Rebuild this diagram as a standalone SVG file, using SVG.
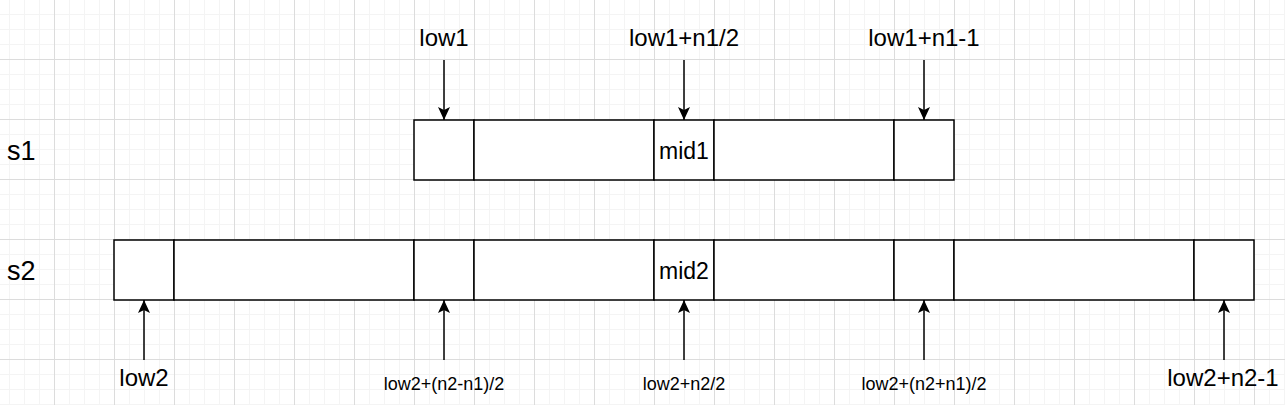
<svg xmlns="http://www.w3.org/2000/svg" width="1285" height="405" viewBox="0 0 1285 405">
<style>
text{font-family:"Liberation Sans",Arial,sans-serif;fill:#000}
.cell{fill:#fff;stroke:#000;stroke-width:1.5}
.big{font-size:24px;text-anchor:middle}
.small{font-size:18px;text-anchor:middle}
.mid{font-size:23px;text-anchor:middle}
.row{font-size:27px}
.arr{stroke:#000;stroke-width:1.5;fill:none;marker-end:url(#head)}
</style>
<defs>
<pattern id="grid" patternUnits="userSpaceOnUse" x="54" y="59" width="60" height="60">
<path d="M15.5 0V60M30.5 0V60M45.5 0V60M0 15.5H60M0 30.5H60M0 45.5H60" stroke="#f4f4f4" stroke-width="1" fill="none"/>
<path d="M0.5 0V60M0 0.5H60" stroke="#dcdcdc" stroke-width="1" fill="none"/>
</pattern>
<marker id="head" markerUnits="userSpaceOnUse" viewBox="-14 -7 14 14" refX="0" refY="0" markerWidth="14" markerHeight="14" orient="auto">
<path d="M0 0L-13 -6L-10 0L-13 6Z" fill="#000"/>
</marker>
</defs>
<rect width="1285" height="405" fill="#fff"/>
<rect width="1285" height="405" fill="url(#grid)"/>
<g id="label-s1"><text class="row" x="7" y="160">s1</text></g>
<g id="label-s2"><text class="row" x="7" y="280">s2</text></g>
<g id="s1">
<rect class="cell" x="414" y="120" width="60" height="60"/>
<rect class="cell" x="474" y="120" width="180" height="60"/>
<rect class="cell" x="654" y="120" width="60" height="60"/>
<rect class="cell" x="714" y="120" width="180" height="60"/>
<rect class="cell" x="894" y="120" width="60" height="60"/>
<text class="mid" x="684" y="159">mid1</text>
</g>
<g id="s2">
<rect class="cell" x="114" y="240" width="60" height="60"/>
<rect class="cell" x="174" y="240" width="240" height="60"/>
<rect class="cell" x="414" y="240" width="60" height="60"/>
<rect class="cell" x="474" y="240" width="180" height="60"/>
<rect class="cell" x="654" y="240" width="60" height="60"/>
<rect class="cell" x="714" y="240" width="180" height="60"/>
<rect class="cell" x="894" y="240" width="60" height="60"/>
<rect class="cell" x="954" y="240" width="240" height="60"/>
<rect class="cell" x="1194" y="240" width="60" height="60"/>
<text class="mid" x="684" y="279">mid2</text>
</g>
<g id="connectors">
<path class="arr" d="M444 60V120"/>
<path class="arr" d="M684 60V120"/>
<path class="arr" d="M924 60V120"/>
<path class="arr" d="M144 360V300"/>
<path class="arr" d="M444 360V300"/>
<path class="arr" d="M684 360V300"/>
<path class="arr" d="M924 360V300"/>
<path class="arr" d="M1224 360V300"/>
</g>
<g id="top-labels">
<text class="big" x="444" y="46">low1</text>
<text class="big" x="684" y="46">low1+n1/2</text>
<text class="big" x="924" y="46">low1+n1-1</text>
</g>
<g id="bottom-labels">
<text class="big" x="144" y="386">low2</text>
<text class="small" x="444" y="390">low2+(n2-n1)/2</text>
<text class="small" x="684" y="390">low2+n2/2</text>
<text class="small" x="924" y="390">low2+(n2+n1)/2</text>
<text class="big" x="1223" y="386">low2+n2-1</text>
</g>
</svg>
